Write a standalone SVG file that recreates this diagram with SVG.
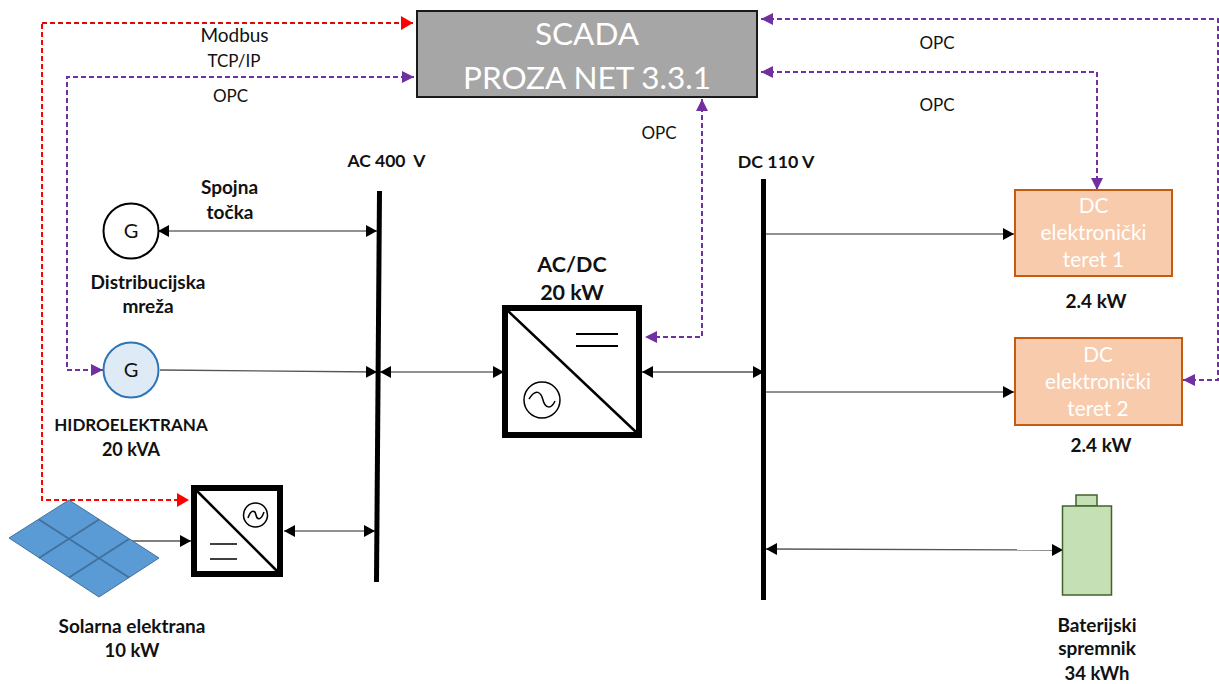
<svg xmlns="http://www.w3.org/2000/svg" width="1219" height="684" viewBox="0 0 1219 684">
<style>
text{font-family:Lato,"Open Sans","Liberation Sans",sans-serif;fill:#111;text-anchor:middle}
.l{font-size:17px}
.b{font-size:19px;font-weight:700}
.w{fill:#fff;font-size:31.500px}
.d{fill:#fff;font-size:20.800px}
.bus{stroke:#000;stroke-width:5;fill:none}
.c{stroke:#555;stroke-width:1.3;fill:none}
.k{stroke:#222;stroke-width:1;fill:none}
.p{stroke:#7030a0;stroke-width:2;stroke-dasharray:5 3;fill:none}
.r{stroke:#ff0000;stroke-width:2;stroke-dasharray:5 3;fill:none}
.conv{fill:#fff;stroke:#000;stroke-width:6}
.thin{stroke:#000;fill:none}
</style>
<defs>
<marker id="ak" markerUnits="userSpaceOnUse" markerWidth="12" markerHeight="12" refX="11" refY="6" orient="auto-start-reverse"><path d="M0 0L11 6L0 12Z" fill="#000"/></marker>
<marker id="ap" markerUnits="userSpaceOnUse" markerWidth="13" markerHeight="12" refX="12" refY="6" orient="auto-start-reverse"><path d="M0 0L12 6L0 12Z" fill="#7030a0"/></marker>
<marker id="ar" markerUnits="userSpaceOnUse" markerWidth="13" markerHeight="14" refX="12" refY="7" orient="auto-start-reverse"><path d="M0 0L12 7L0 14Z" fill="#ff0000"/></marker>
</defs>

<g id="connectors">
<path class="r" d="M42 24V500H189" marker-end="url(#ar)"/>
<path d="M42 23H413" fill="none" stroke="#d01010" stroke-width="2" stroke-dasharray="5 3" marker-end="url(#ar)"/>
<path class="p" d="M414 77H67V370H103" marker-start="url(#ap)" marker-end="url(#ap)"/>
<path class="p" d="M702 99V337H645" marker-start="url(#ap)" marker-end="url(#ap)"/>
<path class="p" d="M761 19H1218V380H1183" marker-start="url(#ap)" marker-end="url(#ap)"/>
<path class="p" d="M761 72H1097V190" marker-start="url(#ap)" marker-end="url(#ap)"/>
<path class="k" d="M158 231H377" marker-start="url(#ak)" marker-end="url(#ak)"/>
<path class="c" d="M160 370L377 372" marker-end="url(#ak)"/>
<path class="k" d="M380 372H504" marker-start="url(#ak)" marker-end="url(#ak)"/>
<path class="c" d="M642 372H764" marker-start="url(#ak)" marker-end="url(#ak)"/>
<path class="k" d="M284 531H375" marker-start="url(#ak)" marker-end="url(#ak)"/>
<path class="c" d="M130 541H191" marker-end="url(#ak)"/>
<path class="k" d="M765 234H1014" marker-end="url(#ak)"/>
<path class="k" d="M765 392H1014" marker-end="url(#ak)"/>
<path class="c" d="M766 549L1063 550" marker-start="url(#ak)" marker-end="url(#ak)"/>
</g>

<g id="bus-ac"><path class="bus" d="M379.500 191L376.500 582"/></g>
<g id="bus-dc"><path class="bus" d="M763.500 179V600"/></g>

<g id="scada">
<rect x="417" y="11" width="340" height="86" fill="#a6a6a6" stroke="#1a1a1a" stroke-width="2"/>
<text class="w" x="587" y="45">SCADA</text>
<text class="w" x="587" y="89">PROZA NET 3.3.1</text>
</g>

<g id="grid">
<circle cx="131" cy="231" r="27.500" fill="#fff" stroke="#000" stroke-width="2"/>
<text x="131" y="238" style="font-size:20px">G</text>
<text class="b" x="229.500" y="194">Spojna</text>
<text class="b" x="230" y="219">točka</text>
<text class="b" x="148" y="289">Distribucijska</text>
<text class="b" x="148" y="313">mreža</text>
</g>

<g id="hydro">
<circle cx="131" cy="370" r="27.500" fill="#deebf7" stroke="#2e75b6" stroke-width="2"/>
<text x="131" y="377" style="font-size:20px">G</text>
<text class="b" x="131" y="431" style="font-size:17px">HIDROELEKTRANA</text>
<text class="b" x="131" y="456" style="font-size:18px">20 kVA</text>
</g>

<g id="solar">
<path d="M9 538L69 500L159 558L99 597Z" fill="#5b9bd5" stroke="#41719c" stroke-width="1"/>
<path d="M39 519.500L129 577.500M99 519.500L39 558M129 539L69 577.500" fill="none" stroke="#41719c" stroke-width="2"/>
<text class="b" x="132" y="633">Solarna elektrana</text>
<text class="b" x="132" y="657" style="font-size:18.500px">10 kW</text>
</g>

<g id="inverter">
<rect class="conv" x="194" y="488" width="86" height="86"/>
<path class="thin" stroke-width="2.500" d="M196 490L278 572"/>
<circle class="thin" stroke-width="1.500" cx="255.500" cy="515" r="12"/>
<path class="thin" stroke-width="1.500" d="M248 518C251 509 255 510 256 515C257 520 261 521 264 512"/>
<path class="thin" stroke-width="1.500" d="M210 544H237M210 559H237"/>
</g>

<g id="acdc">
<rect class="conv" x="505" y="308" width="134" height="127"/>
<path class="thin" stroke-width="2.500" d="M507 310L637 433"/>
<path class="thin" stroke-width="2" d="M576 334H618M576 346H618"/>
<circle class="thin" stroke-width="1.500" cx="542" cy="400" r="18"/>
<path class="thin" stroke-width="1.500" d="M529 399C536 388 541 392 543 400C545 408 551 410 555 401"/>
<text x="572" y="272" style="font-size:21.500px;font-weight:700">AC/DC</text>
<text x="572" y="300" style="font-size:21.500px;font-weight:700">20 kW</text>
</g>

<g id="load1">
<rect x="1015" y="190" width="157" height="86" fill="#f8cbad" stroke="#c55a11" stroke-width="2"/>
<text class="d" x="1093.500" y="213">DC</text>
<text class="d" x="1093.500" y="240">elektronički</text>
<text class="d" x="1093.500" y="267">teret 1</text>
<text class="b" x="1096" y="308">2.4 kW</text>
</g>

<g id="load2">
<rect x="1015" y="338" width="167" height="87" fill="#f8cbad" stroke="#c55a11" stroke-width="2"/>
<text class="d" x="1098" y="362">DC</text>
<text class="d" x="1098" y="389">elektronički</text>
<text class="d" x="1098" y="416">teret 2</text>
<text class="b" x="1101" y="452">2.4 kW</text>
</g>

<g id="battery">
<rect x="1076" y="495" width="21" height="11" fill="#c5e0b4" stroke="#41622b" stroke-width="1.500"/>
<rect x="1062.500" y="506" width="49" height="89" fill="#c5e0b4" stroke="#41622b" stroke-width="1.500"/>
<text class="b" x="1097" y="632">Baterijski</text>
<text class="b" x="1097" y="655">spremnik</text>
<text class="b" x="1097" y="680" style="font-size:18.500px">34 kWh</text>
</g>

<g id="labels">
<text class="b" x="386.500" y="167" xml:space="preserve" style="font-size:17.500px;white-space:pre">AC 400  V</text>
<text class="b" x="776" y="168" style="font-size:17.800px">DC 110 V</text>
<text class="l" x="234.500" y="42" style="font-size:19px">Modbus</text>
<text class="l" x="234" y="67">TCP/IP</text>
<text class="l" x="230.500" y="102">OPC</text>
<text class="l" x="659" y="139">OPC</text>
<text class="l" x="937" y="49">OPC</text>
<text class="l" x="937" y="111">OPC</text>
</g>
</svg>
